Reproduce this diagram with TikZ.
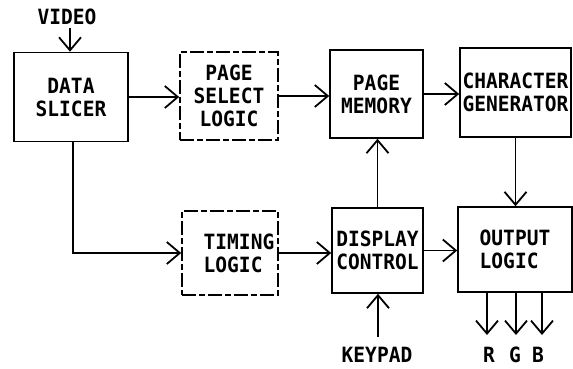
\documentclass[tikz,border=0pt]{standalone}
\usepackage{fontspec}
\newfontfamily\lbl[FakeStretch=0.93]{DejaVu Sans Mono}
\usetikzlibrary{arrows.meta}
\tikzset{
  box/.style={draw, line width=1.6pt, inner sep=0pt, font=\lbl\bfseries\fontsize{21}{23}\selectfont, align=center},
  dbox/.style={box, dash pattern=on 14pt off 3pt on 6pt off 3pt},
  txt/.style={inner sep=0pt, font=\lbl\bfseries\fontsize{21}{23}\selectfont},
  arr/.style={line width=1.6pt, -{Straight Barb[length=13pt,width=22pt,line width=1.8pt]}}
}
\begin{document}
\begin{tikzpicture}[x=1pt,y=-1pt]
\useasboundingbox (0,0) rectangle (573,369);
\node[box, minimum width=114pt, minimum height=89pt] (ds) at (71,97) {DATA\\SLICER};
\node[dbox, minimum width=98pt, minimum height=88pt] (ps) at (229,96) {PAGE\\SELECT\\LOGIC};
\node[box, minimum width=93pt, minimum height=88pt] (pm) at (376.5,94) {PAGE\\MEMORY};
\node[box, minimum width=111pt, minimum height=89pt] (cg) at (515.5,92.5) {CHARACTER\\GENERATOR};
\node[dbox, minimum width=96pt, minimum height=84pt, align=left] (tl) at (230,253) {\hspace*{18pt}TIMING\\\hspace*{18pt}LOGIC};
\node[box, minimum width=91pt, minimum height=85pt] (dc) at (377.5,250.5) {DISPLAY\\CONTROL};
\node[box, minimum width=114pt, minimum height=85pt, align=left] (ol) at (515,249.5) {OUTPUT\\LOGIC};
\node[txt] (vid) at (67,17) {VIDEO};
\node[txt] (kp) at (377,355) {KEYPAD};
\node[txt] (r) at (489,355) {R};
\node[txt] (g) at (515,355) {G};
\node[txt] (b) at (538,355) {B};
\coordinate (vs) at (70,28);
\coordinate (ks) at (378,337);
\coordinate (re) at (487,335);
\coordinate (ge) at (516,335);
\coordinate (be) at (542,335);
\draw[arr] (vs) -- (vs |- ds.north);
\draw[arr] (ds.east) -- (ps.west |- ds.east);
\draw[arr] (ps.east) -- (pm.west |- ps.east);
\draw[arr] (pm.east) -- (cg.west |- pm.east);
\draw[arr] ([xshift=2pt]ds.south) |- (tl.west);
\draw[arr] (tl.east) -- (dc.west |- tl.east);
\draw[arr] (dc.north) -- (dc.north |- pm.south);
\draw[arr] (dc.east) -- (ol.west |- dc.east);
\draw[arr] (cg.south) -- (cg.south |- ol.north);
\draw[arr] (ks) -- (ks |- dc.south);
\draw[arr] (re |- ol.south) -- (re);
\draw[arr] (ge |- ol.south) -- (ge);
\draw[arr] (be |- ol.south) -- (be);
\end{tikzpicture}
\end{document}
